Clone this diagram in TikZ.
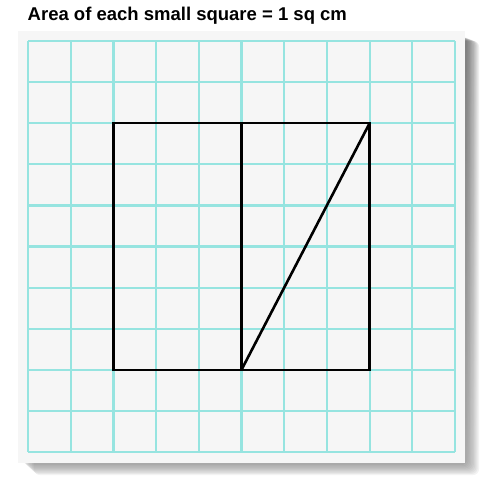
\documentclass[tikz,border=0pt]{standalone}
\usepackage{fontspec}
\setmainfont{Liberation Sans}
\usepackage{tikz}
\usetikzlibrary{positioning}
\definecolor{aqua}{RGB}{150,228,224}
\definecolor{paper}{RGB}{246,246,246}
\definecolor{shade}{RGB}{200,200,200}

\begin{document}
\begin{tikzpicture}[x=1pt, y=-1pt,
  gridline/.style={draw=aqua, line width=2.2pt},
  outline/.style={draw=black, line width=2.6pt, line join=miter},
  caption/.style={anchor=base west, inner sep=0pt, font=\fontsize{18.5}{21}\selectfont\bfseries}
]
\useasboundingbox (0,0) rectangle (486,481);

% Title
\node[caption] (title) at (27.5,21) {Area of each small square = 1 sq cm};

% Paper with soft shadow
\foreach \k in {1,...,10}
  \fill[shade, opacity=0.05, rounded corners=6pt] (22+\k*1.2,36+\k*0.5) rectangle (466+\k*1.3,464+\k*1.1);
\fill[paper] (18,31) rectangle (465,463);

% Grid of 1 cm squares
\foreach \i in {0,...,10} {
  \draw[gridline] (28+42.7*\i,41) -- (28+42.7*\i,452);
  \draw[gridline] (28,41+41.1*\i) -- (455,41+41.1*\i);
}

% Corners of the figure
\coordinate (tl) at (28+42.7*2,41+41.1*2);
\coordinate (tm) at (28+42.7*5,41+41.1*2);
\coordinate (tr) at (28+42.7*8,41+41.1*2);
\coordinate (bl) at (28+42.7*2,41+41.1*8);
\coordinate (bm) at (28+42.7*5,41+41.1*8);
\coordinate (br) at (28+42.7*8,41+41.1*8);

% Figure
\draw[outline] (tl) -- (tr) -- (br) -- (bl) -- cycle;
\draw[outline] (tm) -- (bm);
\draw[outline] (bm) -- (tr);

\end{tikzpicture}
\end{document}
